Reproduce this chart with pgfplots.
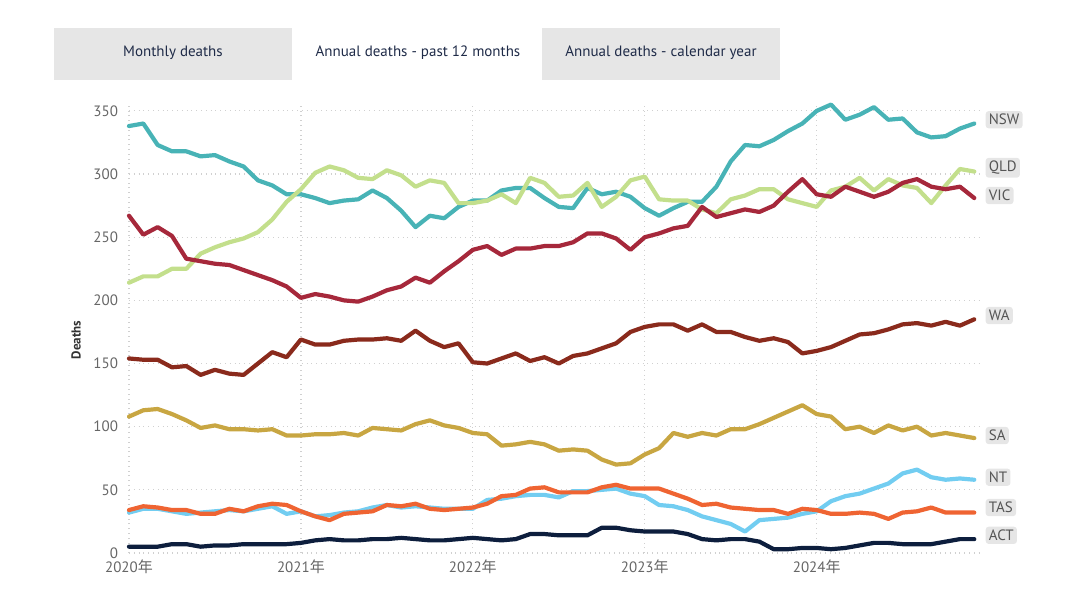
\documentclass[border=0pt]{standalone}
\usepackage{pgfplots}
\pgfplotsset{compat=1.18}
\usepackage{pgfplotstable}
\usepackage{fontspec}
\setmainfont{PT Sans}
\newfontfamily\cjk{Noto Sans CJK SC}
\definecolor{cNSW}{HTML}{48B3B6}
\definecolor{cQLD}{HTML}{C3DF8C}
\definecolor{cVIC}{HTML}{A6283B}
\definecolor{cWA}{HTML}{8A2A1C}
\definecolor{cSA}{HTML}{C8A642}
\definecolor{cNT}{HTML}{72CDF1}
\definecolor{cTAS}{HTML}{EF6432}
\definecolor{cACT}{HTML}{0D1E3D}
\definecolor{btn}{HTML}{E6E6E6}
\definecolor{btntext}{HTML}{1F2B48}
\definecolor{ticktext}{HTML}{666666}
\definecolor{lbltext}{HTML}{555555}
\definecolor{gridc}{HTML}{D0D0D0}
\tikzset{lbl/.style={anchor=west, fill=btn, rounded corners=1.5pt, inner sep=1.6pt, text=lbltext, font=\fontsize{7.5}{9}\selectfont, xshift=5.5pt}}

\pgfplotstableread{
i NSW QLD VIC WA SA NT TAS ACT
0 338 214 267 154 108 32 34 5
1 340 219 252 153 113 35 37 5
2 323 219 258 153 114 35 36 5
3 318 225 251 147 110 33 34 7
4 318 225 233 148 105 31 34 7
5 314 237 231 141 99 32 31 5
6 315 242 229 145 101 33 31 6
7 310 246 228 142 98 34 35 6
8 306 249 224 141 98 33 33 7
9 295 254 220 150 97 35 37 7
10 291 264 216 159 98 37 39 7
11 284 278 211 155 93 31 38 7
12 284 288 202 169 93 33 33 8
13 281 301 205 165 94 29 29 10
14 277 306 203 165 94 30 26 11
15 279 303 200 168 95 32 31 10
16 280 297 199 169 93 33 32 10
17 287 296 203 169 99 36 33 11
18 281 303 208 170 98 38 38 11
19 271 299 211 168 97 36 37 12
20 258 290 218 176 102 37 39 11
21 267 295 214 168 105 36 35 10
22 265 293 223 163 101 35 34 10
23 274 277 231 166 99 35 35 11
24 279 277 240 151 95 35 36 12
25 279 279 243 150 94 42 39 11
26 287 284 236 154 85 43 45 10
27 289 277 241 158 86 45 46 11
28 289 297 241 152 88 46 51 15
29 281 293 243 155 86 46 52 15
30 274 282 243 150 81 44 48 14
31 273 283 246 156 82 49 48 14
32 289 293 253 158 81 49 48 14
33 284 274 253 162 74 50 52 20
34 286 282 249 166 70 51 54 20
35 282 295 240 175 71 47 51 18
36 273 298 250 179 78 45 51 17
37 267 280 253 181 83 38 51 17
38 273 279 257 181 95 37 47 17
39 278 279 259 176 92 34 43 15
40 278 272 274 181 95 29 38 11
41 290 269 266 175 93 26 39 10
42 310 280 269 175 98 23 36 11
43 323 283 272 171 98 17 35 11
44 322 288 270 168 102 26 34 9
45 327 288 275 170 107 27 34 3
46 334 280 286 167 112 28 31 3
47 340 277 296 158 117 31 35 4
48 350 274 284 160 110 33 34 4
49 355 287 282 163 108 41 31 3
50 343 290 290 168 98 45 31 4
51 347 297 286 173 100 47 32 6
52 353 287 282 174 95 51 31 8
53 343 296 286 177 101 55 27 8
54 344 291 293 181 97 63 32 7
55 333 289 296 182 100 66 33 7
56 329 277 290 180 93 60 36 7
57 330 291 288 183 95 58 32 9
58 336 304 290 180 93 59 32 11
59 340 302 281 185 91 58 32 11
}\datatable

\begin{document}
\begin{tikzpicture}[x=1pt,y=1pt]
\useasboundingbox (0,0) rectangle (540,302);
\fill[btn] (27,262) rectangle (146,288);
\fill[btn] (271,262) rectangle (390,288);
\begin{scope}[every node/.style={text=btntext,font=\fontsize{7.5}{9}\selectfont}]
\node at (86.5,275.5) {Monthly deaths};
\node at (209,275.5) {Annual deaths - past 12 months};
\node at (330.5,275.5) {Annual deaths - calendar year};
\end{scope}
\node[rotate=90,text=black!80,font=\fontsize{6.5}{8}\selectfont\bfseries] at (38,132) {Deaths};

\begin{axis}[
  at={(64.5pt,25.5pt)}, anchor=south west,
  scale only axis, width=425.5pt, height=224.2pt,
  xmin=0, xmax=59.4, ymin=0, ymax=355,
  clip=false,
  axis line style={draw=none},
  tick style={draw=none},
  xtick={0,12,24,36,48},
  xticklabels={2020{\cjk 年},2021{\cjk 年},2022{\cjk 年},2023{\cjk 年},2024{\cjk 年}},
  ytick={0,50,...,350},
  grid=major,
  major grid style={gridc, dotted, line width=0.6pt},
  /pgf/number format/assume math mode=true,
  ticklabel style={text=ticktext, font=\fontsize{7.5}{9}\selectfont},
  yticklabel style={xshift=-2pt},
  every axis plot/.append style={line width=2.1pt, line join=round, line cap=round, no markers},
]
\addplot[cNT] table[x=i,y=NT] {\datatable};
\addplot[cACT] table[x=i,y=ACT] {\datatable};
\addplot[cTAS] table[x=i,y=TAS] {\datatable};
\addplot[cSA] table[x=i,y=SA] {\datatable};
\addplot[cWA] table[x=i,y=WA] {\datatable};
\addplot[cNSW] table[x=i,y=NSW] {\datatable};
\addplot[cQLD] table[x=i,y=QLD] {\datatable};
\addplot[cVIC] table[x=i,y=VIC] {\datatable};

\node[lbl] at (axis cs:59,343) {NSW};
\node[lbl] at (axis cs:59,305) {QLD};
\node[lbl] at (axis cs:59,283) {VIC};
\node[lbl] at (axis cs:59,188) {WA};
\node[lbl] at (axis cs:59,93) {SA};
\node[lbl] at (axis cs:59,60) {NT};
\node[lbl] at (axis cs:59,36) {TAS};
\node[lbl] at (axis cs:59,14) {ACT};
\end{axis}
\end{tikzpicture}
\end{document}
